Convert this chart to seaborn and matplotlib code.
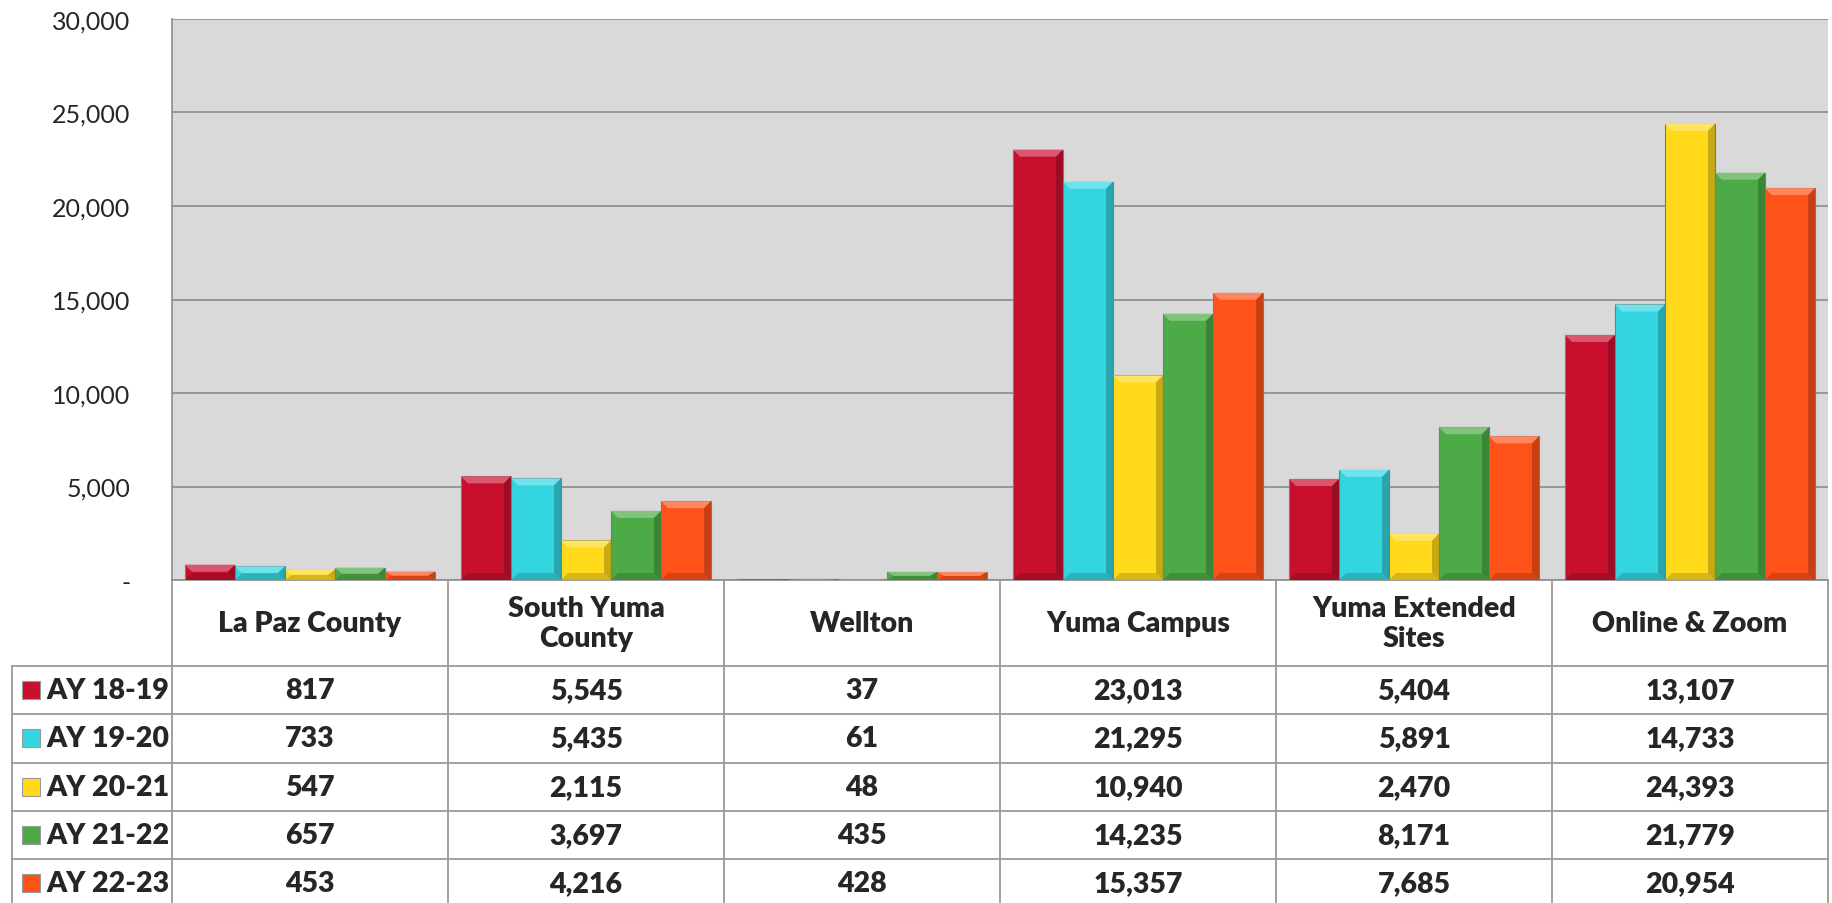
import numpy as np
import pandas as pd
import matplotlib
matplotlib.use("Agg")
import matplotlib.pyplot as plt
import matplotlib.colors as mcolors
from matplotlib.patches import Polygon, Rectangle
from matplotlib.ticker import FuncFormatter
import seaborn as sns

campuses = ["La Paz County", "South Yuma County", "Wellton", "Yuma Campus",
            "Yuma Extended Sites", "Online & Zoom"]
header_labels = ["La Paz County", "South Yuma\nCounty", "Wellton", "Yuma Campus",
                 "Yuma Extended\nSites", "Online & Zoom"]
years = ["AY 18-19", "AY 19-20", "AY 20-21", "AY 21-22", "AY 22-23"]
ay_18_19 = [817, 5545, 37, 23013, 5404, 13107]
ay_19_20 = [733, 5435, 61, 21295, 5891, 14733]
ay_20_21 = [547, 2115, 48, 10940, 2470, 24393]
ay_21_22 = [657, 3697, 435, 14235, 8171, 21779]
ay_22_23 = [453, 4216, 428, 15357, 7685, 20954]
series = [ay_18_19, ay_19_20, ay_20_21, ay_21_22, ay_22_23]
colors = ["#C8102E", "#33D6E0", "#FFD91A", "#4CAB47", "#FF5219"]

df = pd.DataFrame([{"campus": c, "year": y, "value": v}
                   for y, vals in zip(years, series) for c, v in zip(campuses, vals)])

sns.set_style("white")
plt.rcParams["font.family"] = ["Lato", "DejaVu Sans"]

W, H = 1833, 904
fig = plt.figure(figsize=(W / 100, H / 100), dpi=100)

# layout in pixels
left, right, top, base = 172, 1828, 20, 581
leg_left = 12
row_h = 48.3
header_bottom = 667

ax = fig.add_axes([left / W, (H - base) / H, (right - left) / W, (base - top) / H])
ax.set_facecolor("#D9D9D9")
sns.barplot(data=df, x="campus", y="value", hue="year", palette=colors,
            width=0.906, saturation=1, gap=0, legend=False, ax=ax,
            edgecolor="#7a7a7a", linewidth=0.8, zorder=3)
ax.set_ylim(0, 30000)
ax.set_xlim(-0.5, 5.5)
ax.set_yticks(np.arange(0, 30001, 5000))
ax.yaxis.set_major_formatter(FuncFormatter(lambda v, p: "-" if v == 0 else f"{int(v):,}"))
ax.tick_params(axis="y", length=8, width=1, color="#8c8c8c", pad=22, labelsize=18)
ax.tick_params(axis="x", length=0, labelbottom=False)
ax.set_xlabel("")
ax.set_ylabel("")
ax.grid(axis="y", color="#8c8c8c", linewidth=1.2, zorder=1)
ax.set_axisbelow(True)
for s in ["top", "right"]:
    ax.spines[s].set_visible(False)
for s in ["left", "bottom"]:
    ax.spines[s].set_color("#8c8c8c")
    ax.spines[s].set_linewidth(1.2)

# bevel shading on each bar
px_x = 1.0 / ((right - left) / 6.0)
px_y = 30000.0 / (base - top)
for p in ax.patches:
    x0, y0 = p.get_x(), p.get_y()
    w, h = p.get_width(), p.get_height()
    if h <= 0:
        continue
    base_c = np.array(mcolors.to_rgb(p.get_facecolor()))
    light = tuple(np.clip(base_c + (1 - base_c) * 0.3, 0, 1))
    dark = tuple(base_c * 0.6)
    bx = 7 * px_x
    by = min(7 * px_y, h / 2)
    x1, y1 = x0 + w, y0 + h
    ax.add_patch(Polygon([(x0, y1), (x1, y1), (x1 - bx, y1 - by), (x0 + bx, y1 - by)],
                         closed=True, facecolor=light, edgecolor="none", zorder=4))
    ax.add_patch(Polygon([(x1, y1), (x1, y0), (x1 - bx, y0 + by), (x1 - bx, y1 - by)],
                         closed=True, facecolor=dark, edgecolor="none", alpha=0.55, zorder=4))
    ax.add_patch(Polygon([(x0, y0), (x1, y0), (x1 - bx, y0 + by), (x0 + bx, y0 + by)],
                         closed=True, facecolor=dark, edgecolor="none", alpha=0.4, zorder=4))

# data table below the chart
tab = fig.add_axes([0, 0, 1, 1], zorder=-1)
tab.set_xlim(0, W)
tab.set_ylim(H, 0)
tab.axis("off")
line_kw = dict(color="#9a9a9a", linewidth=1.3)
col_w = (right - left) / len(campuses)
col_edges = [left + i * col_w for i in range(len(campuses) + 1)]
row_edges = [header_bottom + i * row_h for i in range(len(years))]
for xe in col_edges:
    tab.plot([xe, xe], [base, H], **line_kw)
tab.plot([leg_left, leg_left], [header_bottom, H], **line_kw)
for ye in row_edges:
    tab.plot([leg_left, right], [ye, ye], **line_kw)

fs = 20.5
for i, lab in enumerate(header_labels):
    tab.text(left + (i + 0.5) * col_w, (base + header_bottom) / 2, lab,
             ha="center", va="center", fontsize=fs, fontweight="heavy",
             linespacing=1.2)

for r, (yr, vals, col) in enumerate(zip(years, series, colors)):
    yc = header_bottom + (r + 0.5) * row_h
    tab.add_patch(Rectangle((22, yc - 9), 18, 18, facecolor=col,
                            edgecolor="#9a9a9a", linewidth=0.8))
    tab.text(46, yc, yr, ha="left", va="center", fontsize=fs, fontweight="heavy")
    for i, v in enumerate(vals):
        tab.text(left + (i + 0.5) * col_w, yc, f"{v:,}", ha="center", va="center",
                 fontsize=fs, fontweight="heavy")

fig.savefig("out.png", dpi=100, facecolor="white")
